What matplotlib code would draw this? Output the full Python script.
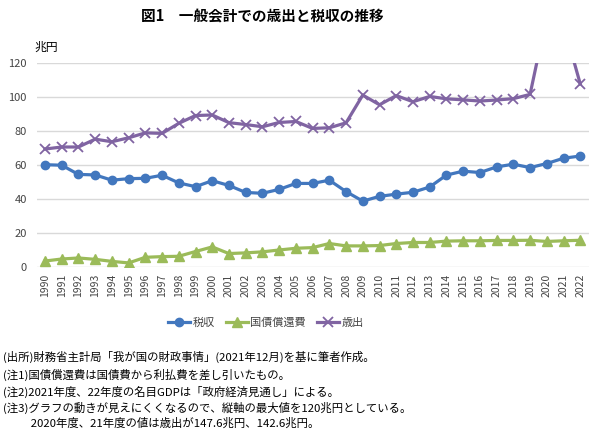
import matplotlib
matplotlib.use('Agg')
import matplotlib.pyplot as plt
import numpy as np

plt.rcParams['font.family'] = ['Noto Sans CJK JP', 'DejaVu Sans']

years = list(range(1990, 2023))
zeishu = [60.1, 59.8, 54.4, 54.1, 51.0, 51.9, 52.1, 53.9, 49.4, 47.2,
          50.7, 47.9, 43.8, 43.3, 45.6, 49.1, 49.1, 51.0, 44.3, 38.7,
          41.5, 42.8, 43.9, 47.0, 54.0, 56.3, 55.5, 58.8, 60.4, 58.4,
          60.8, 63.9, 65.2]
shokan = [3.5, 4.7, 5.3, 4.5, 3.3, 2.4, 5.7, 6.1, 6.3, 9.1,
          11.8, 7.9, 8.3, 8.9, 10.0, 11.0, 11.4, 13.8, 12.4, 12.4,
          12.6, 13.8, 14.4, 14.4, 15.2, 15.4, 15.4, 15.6, 15.6, 15.7,
          15.0, 15.4, 15.7]
saishutsu = [69.3, 70.5, 70.5, 75.1, 73.6, 75.9, 78.8, 78.5, 84.4, 89.0,
             89.3, 84.8, 83.7, 82.4, 84.9, 85.5, 81.4, 81.8, 84.7, 101.0,
             95.3, 100.7, 97.1, 100.2, 98.8, 98.2, 97.5, 98.1, 98.9, 101.4,
             147.6, 142.6, 107.6]

notes = [
    "(出所)財務省主計局「我が国の財政事情」(2021年12月)を基に筆者作成。",
    "(注1)国債償還費は国債費から利払費を差し引いたもの。",
    "(注2)2021年度、22年度の名目GDPは「政府経済見通し」による。",
    "(注3)グラフの動きが見えにくくなるので、縦軸の最大値を120兆円としている。",
    "　　  2020年度、21年度の値は歳出が147.6兆円、142.6兆円。",
]

blue = '#4277BE'
green = '#9BBB59'
purple = '#8064A2'

fig = plt.figure(figsize=(6, 4.45), dpi=100)
ax = fig.add_axes([0.061, 0.40, 0.92, 0.459])

ax.plot(years, zeishu, color=blue, lw=2.3, marker='o', ms=6, label='税収')
ax.plot(years, shokan, color=green, lw=2.3, marker='^', ms=7, label='国債償還費')
ax.plot(years, saishutsu, color=purple, lw=2.3, marker='x', ms=7, mew=1.3,
        label='歳出')

ax.set_xlim(1989.5, 2022.5)
ax.set_ylim(0, 120)
ax.set_yticks(np.arange(0, 121, 20))
ax.set_xticks(years)
ax.set_xticklabels([str(y) for y in years], rotation=90, fontsize=7.5,
                   color='#444444')
ax.tick_params(axis='y', labelsize=8, colors='#444444', length=0, pad=7)
ax.tick_params(axis='x', length=0, pad=5)
ax.grid(axis='y', color='#d9d9d9', lw=1)
ax.set_axisbelow(True)
for s in ax.spines.values():
    s.set_visible(False)

fig.text(0.438, 0.962, '図1　一般会計での歳出と税収の推移', ha='center', va='center',
         fontsize=10.5, fontweight='bold')
fig.text(0.058, 0.893, '兆円', ha='left', va='center', fontsize=8.5)

fig.legend(loc='center', bbox_to_anchor=(0.443, 0.274), ncol=3, frameon=False,
           fontsize=8, handlelength=2.0, columnspacing=1.0, handletextpad=0.2,
           labelcolor='#444444')

ys = [0.198, 0.157, 0.119, 0.083, 0.049]
for t, y in zip(notes, ys):
    fig.text(0.005, y, t, ha='left', va='center', fontsize=8.2)

fig.savefig('out.png', dpi=100)
